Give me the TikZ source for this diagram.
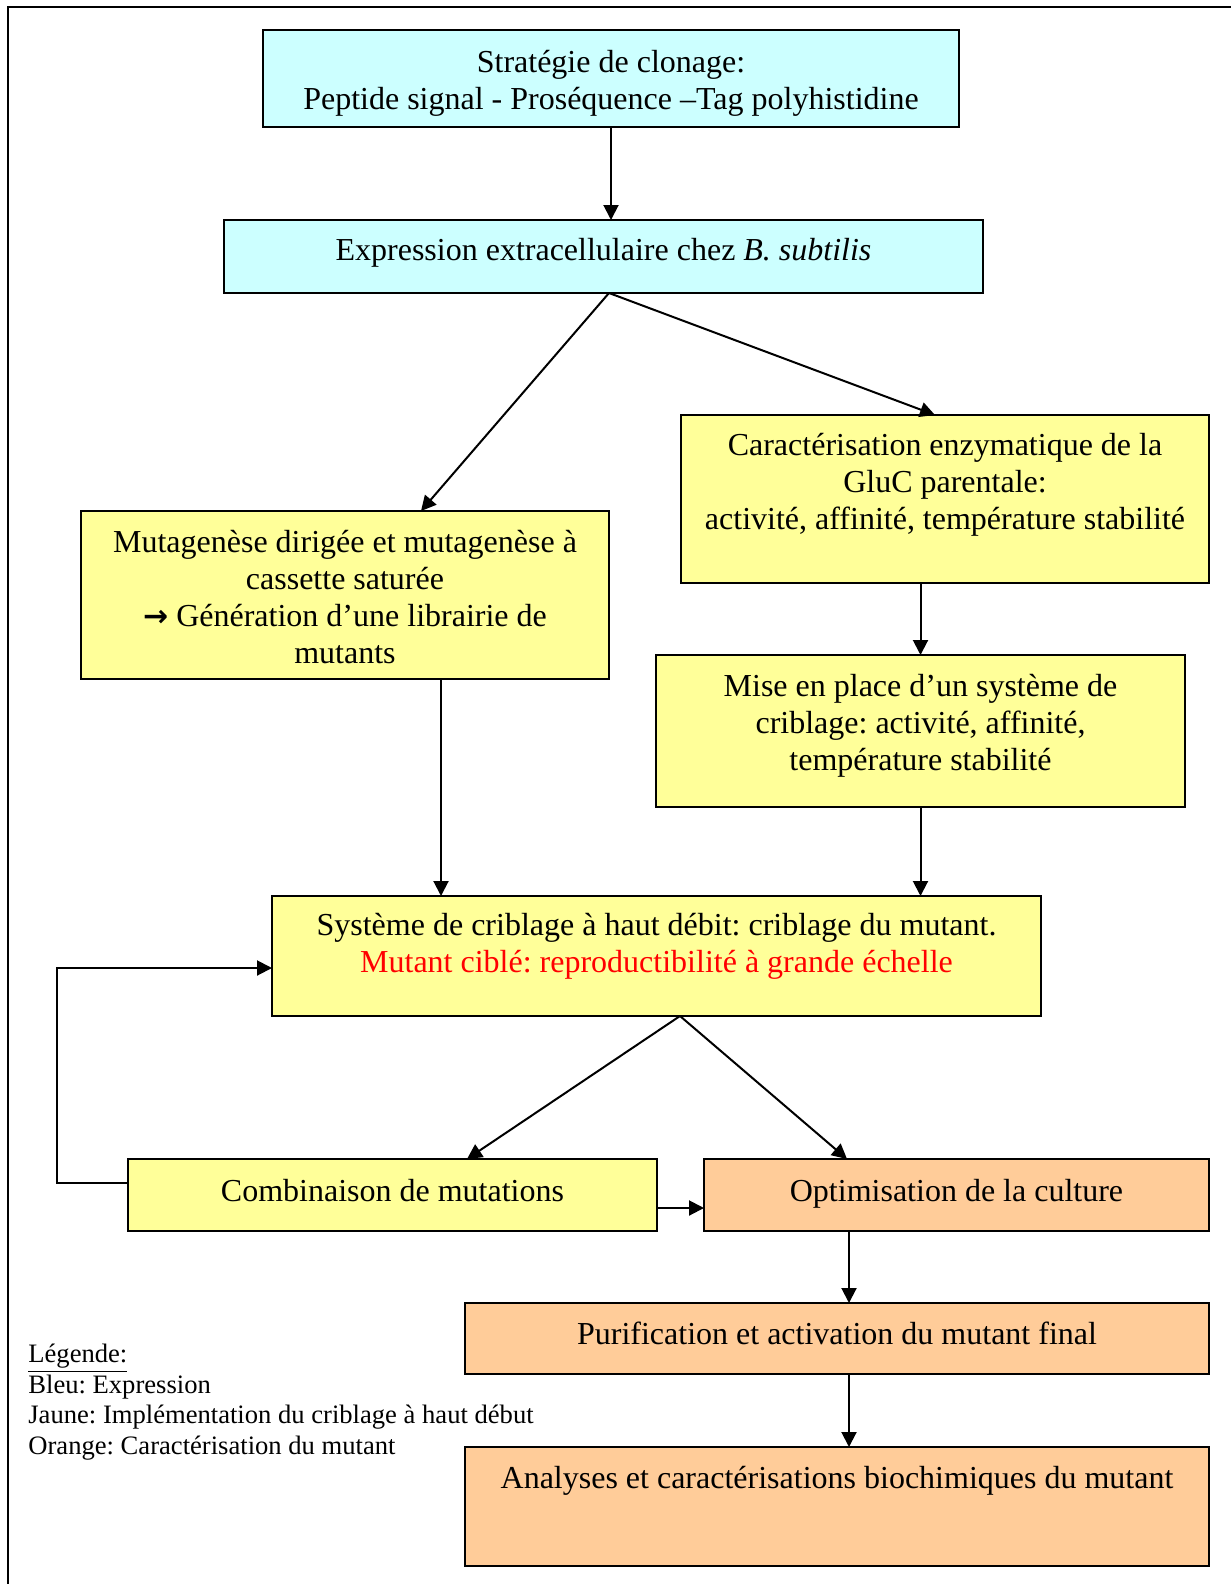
\documentclass[tikz,border=0pt]{standalone}
\usepackage{fontspec}
\setmainfont{Liberation Serif}
\newfontfamily\symfont{DejaVu Sans}
\usetikzlibrary{arrows.meta,calc}
\definecolor{bluebox}{HTML}{CCFFFF}
\definecolor{yellowbox}{HTML}{FFFF99}
\definecolor{orangebox}{HTML}{FFCC99}
\definecolor{redtext}{HTML}{FF0000}
\frenchspacing
\begin{document}
\begin{tikzpicture}[x=0.5pt,y=-0.5pt,
  box/.style={draw, line width=1pt, inner sep=0pt, outer sep=0pt},
  lbl/.style={anchor=north, align=center, inner sep=0pt, font=\fontsize{16}{18.5}\selectfont},
  arr/.style={line width=1pt, -{Triangle[length=7.5pt,width=7.5pt]}}]
\useasboundingbox (0,0) rectangle (1231,1584);

% page frame (top and left edges)
\draw[line width=1pt] (8,1584) -- (8,7) -- (1231,7);

% boxes
\node[box, fill=bluebox, minimum width=696*0.5pt, minimum height=97*0.5pt] (b1) at (611,78.5) {};
\node[box, fill=bluebox, minimum width=759*0.5pt, minimum height=73*0.5pt] (b2) at (603.5,256.5) {};
\node[box, fill=yellowbox, minimum width=528*0.5pt, minimum height=168*0.5pt] (mut) at (345,595) {};
\node[box, fill=yellowbox, minimum width=528*0.5pt, minimum height=168*0.5pt] (car) at (945,499) {};
\node[box, fill=yellowbox, minimum width=529*0.5pt, minimum height=152*0.5pt] (mise) at (920.5,731) {};
\node[box, fill=yellowbox, minimum width=769*0.5pt, minimum height=120*0.5pt] (sys) at (656.5,956) {};
\node[box, fill=yellowbox, minimum width=529*0.5pt, minimum height=72*0.5pt] (comb) at (392.5,1195) {};
\node[box, fill=orangebox, minimum width=505*0.5pt, minimum height=72*0.5pt] (opt) at (956.5,1195) {};
\node[box, fill=orangebox, minimum width=744*0.5pt, minimum height=71*0.5pt] (pur) at (837,1338.5) {};
\node[box, fill=orangebox, minimum width=744*0.5pt, minimum height=119*0.5pt] (ana) at (837,1506.5) {};

% box texts
\node[lbl] (t1) at (611,46) {\strut Stratégie de clonage:\\Peptide signal - Proséquence –Tag polyhistidine};
\node[lbl] (t2) at (603.5,234) {\strut Expression extracellulaire chez \textit{B. subtilis}};
\node[lbl] (tmut) at (345,526) {\strut Mutagenèse dirigée et mutagenèse à\\cassette saturée\\{\symfont\bfseries\fontsize{15}{18.5}\selectfont →} Génération d’une librairie de\\mutants};
\node[lbl] (tcar) at (945,429) {\strut Caractérisation enzymatique de la\\GluC parentale:\\activité, affinité, température stabilité};
\node[lbl] (tmise) at (920.5,670) {\strut Mise en place d’un système de\\criblage: activité, affinité,\\température stabilité};
\node[lbl] (tsys) at (656.5,909) {\strut Système de criblage à haut débit: criblage du mutant.\\\textcolor{redtext}{Mutant ciblé: reproductibilité à grande échelle}};
\node[lbl] (tcomb) at (392.5,1175) {\strut Combinaison de mutations};
\node[lbl] (topt) at (956.5,1175) {\strut Optimisation de la culture};
\node[lbl] (tpur) at (837,1318) {\strut Purification et activation du mutant final};
\node[lbl] (tana) at (837,1462) {\strut Analyses et caractérisations biochimiques du mutant};

% legend
\node[anchor=north west, align=left, inner sep=0pt, font=\fontsize{13.3}{15.25}\selectfont] (legend) at (28,1341)
  {\strut\underline{Légende:}\\Bleu: Expression\\Jaune: Implémentation du criblage à haut début\\Orange: Caractérisation du mutant};

% connectors
\draw[arr] (b1.south) -- (b1.south |- b2.north);
\coordinate (b2o) at ($(b2.south)+(5.5,0)$);
\draw[arr] (b2o) -- ($(mut.north)+(76,0)$);
\draw[arr] (b2o) -- ($(car.north)+(-10,0)$);
\draw[arr] (mise.north |- car.south) -- (mise.north);
\coordinate (m1) at ($(mut.south)+(96,0)$);
\draw[arr] (m1) -- (m1 |- sys.north);
\draw[arr] (mise.south) -- (mise.south |- sys.north);
\coordinate (s1) at ($(sys.south)+(23.5,0)$);
\draw[arr] (s1) -- ($(comb.north)+(74.5,0)$);
\draw[arr] (s1) -- ($(opt.north)+(-109.5,0)$);
\coordinate (c1) at ($(comb.east)+(0,13)$);
\draw[arr] (c1) -- (c1 -| opt.west);
\coordinate (c2) at ($(comb.west)+(0,-12)$);
\coordinate (s2) at ($(sys.west)+(0,12)$);
\coordinate (loopx) at (57,0);
\draw[arr] (c2) -- (c2 -| loopx) |- (s2);
\coordinate (o1) at ($(opt.south)+(-107.5,0)$);
\draw[arr] (o1) -- (o1 |- pur.north);
\coordinate (p1) at (o1 |- pur.south);
\draw[arr] (p1) -- (p1 |- ana.north);
\end{tikzpicture}
\end{document}
